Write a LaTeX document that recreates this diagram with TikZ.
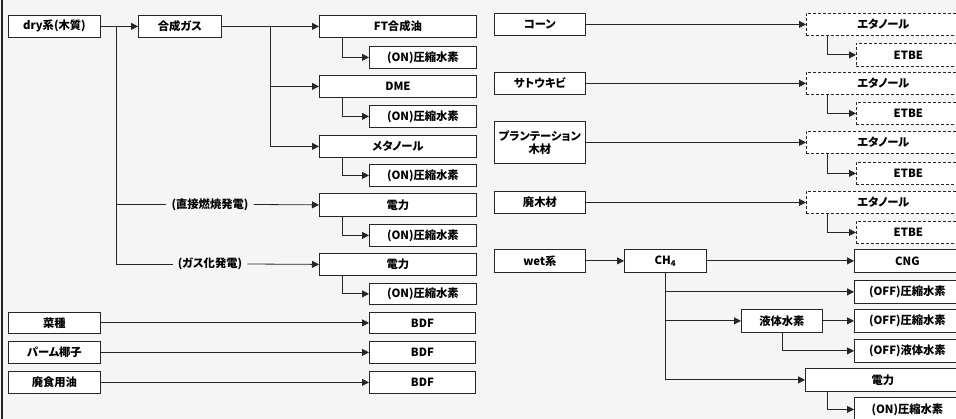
\documentclass[tikz,border=0pt]{standalone}
\usepackage{fontspec}
\setmainfont{Noto Sans CJK JP}[RawFeature=+palt]
\usetikzlibrary{arrows.meta}
\tikzset{
  box/.style={draw=black!85, line width=0.8pt, fill=white, inner sep=0pt, anchor=north west,
    font=\fontsize{11.3}{13}\selectfont\bfseries, text=black},
  dbox/.style={box, dash pattern=on 3pt off 2pt},
  lbl/.style={inner sep=5pt, font=\fontsize{11.3}{13}\selectfont\bfseries},
  ln/.style={draw=black!85, line width=0.8pt},
  arr/.style={ln, -{Triangle[length=7pt,width=7pt]}},
}
\newcommand\mybox[7][box]{\node[#1, minimum width=#5pt, minimum height=#6pt] (#2) at (#3,#4) {#7};}
\begin{document}
\begin{tikzpicture}[x=1pt,y=-1pt]
\useasboundingbox (0,0) rectangle (956,419);
\clip (0,0) rectangle (956,419);
\fill[black!4] (0,0) rectangle (956,419);
\draw[line width=2.2pt, black!85] (2,0) -- (2,419);
% ---- left column
\mybox{dry}{8}{15}{92}{22}{dry系(木質)}
\mybox{gas}{138}{15}{83}{22}{合成ガス}
\mybox{ft}{319}{15}{157}{22}{FT合成油}
\mybox{on1}{369}{46}{107}{22}{(ON)圧縮水素}
\mybox{dme}{319}{75}{157}{22}{DME}
\mybox{on2}{369}{105}{107}{22}{(ON)圧縮水素}
\mybox{meoh}{319}{135}{157}{22}{メタノール}
\mybox{on3}{369}{164}{107}{22}{(ON)圧縮水素}
\mybox{el1}{319}{193}{157}{23}{電力}
\mybox{on4}{369}{224}{107}{22}{(ON)圧縮水素}
\mybox{el2}{319}{253}{157}{22}{電力}
\mybox{on5}{369}{283}{107}{21}{(ON)圧縮水素}
\mybox{rape}{8}{312}{92}{21}{菜種}
\mybox{bdf1}{369}{312}{106}{21}{BDF}
\mybox{palm}{8}{341}{92}{22}{パーム椰子}
\mybox{bdf2}{369}{341}{106}{22}{BDF}
\mybox{oil}{8}{371}{92}{22}{廃食用油}
\mybox{bdf3}{369}{371}{106}{22}{BDF}
\node[lbl] (lab1) at (210,204.5) {(直接燃焼発電)};
\node[lbl] (lab2) at (210,264) {(ガス化発電)};
\coordinate (v1) at (116,26);
\coordinate (v2) at (270,26);
\draw[arr] (dry) -- (gas);
\draw[ln] (v1) |- (lab1.west);
\draw[ln] (v1) |- (lab2.west);
\draw[arr] (lab1.east) -- (el1.west);
\draw[arr] (lab2.east) -- (el2.west);
\draw[arr] (gas) -- (ft);
\draw[arr] (v2) |- (dme.west);
\draw[arr] (v2) |- (meoh.west);
\draw[arr] ([xshift=23pt]ft.south west) |- (on1.west);
\draw[arr] ([xshift=23pt]dme.south west) |- (on2.west);
\draw[arr] ([xshift=23pt]meoh.south west) |- (on3.west);
\draw[arr] ([xshift=23pt]el1.south west) |- (on4.west);
\draw[arr] ([xshift=23pt]el2.south west) |- (on5.west);
\draw[arr] (rape) -- (bdf1);
\draw[arr] (palm) -- (bdf2);
\draw[arr] (oil) -- (bdf3);
% ---- right column
\mybox{corn}{494}{13}{91}{22}{コーン}
\mybox[dbox]{eth1}{806}{13}{154}{22}{エタノール}
\mybox[dbox]{etbe1}{856}{43}{104}{23}{ETBE}
\mybox{cane}{494}{72}{91}{22}{サトウキビ}
\mybox[dbox]{eth2}{806}{72}{154}{22}{エタノール}
\mybox[dbox]{etbe2}{856}{102}{104}{22}{ETBE}
\node[box, minimum width=91pt, minimum height=42pt, align=center] (plant) at (494,121) {プランテーション\\木材};
\mybox[dbox]{eth3}{806}{131}{154}{22}{エタノール}
\mybox[dbox]{etbe3}{856}{162}{104}{22}{ETBE}
\mybox{wood}{494}{191}{91}{22}{廃木材}
\mybox[dbox]{eth4}{806}{191}{154}{22}{エタノール}
\mybox[dbox]{etbe4}{856}{221}{104}{22}{ETBE}
\mybox{wet}{494}{249}{91}{23}{wet系}
\mybox{ch4}{624}{249}{82}{23}{CH\textsubscript{4}}
\mybox{cng}{854}{249}{106}{23}{CNG}
\mybox{off1}{854}{280}{106}{23}{(OFF)圧縮水素}
\mybox{liq}{741}{309}{81}{23}{液体水素}
\mybox{off2}{854}{309}{106}{23}{(OFF)圧縮水素}
\mybox{off3}{854}{339}{106}{23}{(OFF)液体水素}
\mybox{el3}{805}{368}{155}{23}{電力}
\mybox{on6}{854}{397}{106}{24}{(ON)圧縮水素}
\draw[arr] (corn) -- (eth1);
\draw[arr] (cane) -- (eth2);
\draw[arr] (plant) -- (eth3);
\draw[arr] (wood) -- (eth4);
\draw[arr] ([xshift=21pt]eth1.south west) |- (etbe1.west);
\draw[arr] ([xshift=21pt]eth2.south west) |- (etbe2.west);
\draw[arr] ([xshift=21pt]eth3.south west) |- (etbe3.west);
\draw[arr] ([xshift=21pt]eth4.south west) |- (etbe4.west);
\draw[arr] (wet) -- (ch4);
\draw[arr] (ch4) -- (cng);
\draw[arr] (ch4.south) |- (off1.west);
\draw[arr] (ch4.south) |- (liq.west);
\draw[arr] (ch4.south) |- (el3.west);
\draw[arr] (liq) -- (off2);
\draw[arr] (liq.south) |- (off3.west);
\draw[arr] ([xshift=22pt]el3.south west) |- (on6.west);
\end{tikzpicture}
\end{document}
